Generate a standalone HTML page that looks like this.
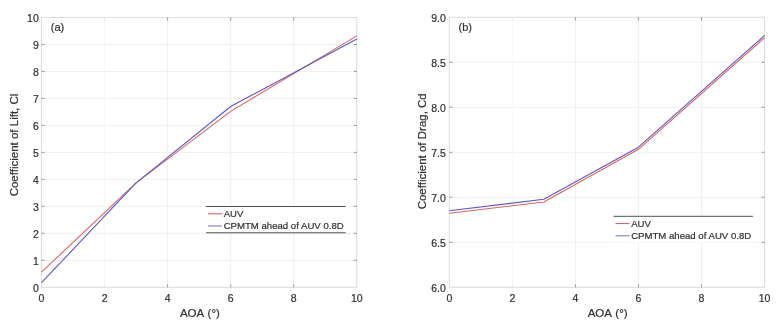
<!DOCTYPE html>
<html><head><meta charset="utf-8"><style>
html,body{margin:0;padding:0;background:#fff;}
body{width:779px;height:328px;overflow:hidden;}
svg{display:block;will-change:transform;}
text{font-family:"Liberation Sans", sans-serif;fill:#303030;stroke:#303030;stroke-width:0.2px;}
</style></head><body>
<svg width="779" height="328" viewBox="0 0 779 328">
<rect width="779" height="328" fill="#fff"/>
<line x1="104.56" y1="17.5" x2="104.56" y2="287.3" stroke="#f8f8f8" stroke-width="1"/>
<line x1="167.62" y1="17.5" x2="167.62" y2="287.3" stroke="#efefef" stroke-width="1"/>
<line x1="230.68" y1="17.5" x2="230.68" y2="287.3" stroke="#efefef" stroke-width="1"/>
<line x1="293.74" y1="17.5" x2="293.74" y2="287.3" stroke="#efefef" stroke-width="1"/>
<line x1="41.5" y1="260.32" x2="356.8" y2="260.32" stroke="#f0f0f0" stroke-width="1"/>
<line x1="41.5" y1="233.34" x2="356.8" y2="233.34" stroke="#f0f0f0" stroke-width="1"/>
<line x1="41.5" y1="206.36" x2="356.8" y2="206.36" stroke="#f0f0f0" stroke-width="1"/>
<line x1="41.5" y1="179.38" x2="356.8" y2="179.38" stroke="#f0f0f0" stroke-width="1"/>
<line x1="41.5" y1="152.40" x2="356.8" y2="152.40" stroke="#f0f0f0" stroke-width="1"/>
<line x1="41.5" y1="125.42" x2="356.8" y2="125.42" stroke="#f0f0f0" stroke-width="1"/>
<line x1="41.5" y1="98.44" x2="356.8" y2="98.44" stroke="#f0f0f0" stroke-width="1"/>
<line x1="41.5" y1="71.46" x2="356.8" y2="71.46" stroke="#f0f0f0" stroke-width="1"/>
<line x1="41.5" y1="44.48" x2="356.8" y2="44.48" stroke="#f0f0f0" stroke-width="1"/>
<rect x="41.5" y="17.5" width="315.30" height="269.80" fill="none" stroke="#dcdcdc" stroke-width="1"/>
<line x1="104.56" y1="287.3" x2="104.56" y2="284.3" stroke="#e4e4e4" stroke-width="1"/>
<line x1="104.56" y1="17.5" x2="104.56" y2="20.5" stroke="#e4e4e4" stroke-width="1"/>
<line x1="167.62" y1="287.3" x2="167.62" y2="284.3" stroke="#999" stroke-width="1"/>
<line x1="167.62" y1="17.5" x2="167.62" y2="20.5" stroke="#999" stroke-width="1"/>
<line x1="230.68" y1="287.3" x2="230.68" y2="284.3" stroke="#999" stroke-width="1"/>
<line x1="230.68" y1="17.5" x2="230.68" y2="20.5" stroke="#999" stroke-width="1"/>
<line x1="293.74" y1="287.3" x2="293.74" y2="284.3" stroke="#999" stroke-width="1"/>
<line x1="293.74" y1="17.5" x2="293.74" y2="20.5" stroke="#999" stroke-width="1"/>
<line x1="41.5" y1="260.32" x2="44.5" y2="260.32" stroke="#999" stroke-width="1"/>
<line x1="356.8" y1="260.32" x2="353.8" y2="260.32" stroke="#999" stroke-width="1"/>
<line x1="41.5" y1="233.34" x2="44.5" y2="233.34" stroke="#999" stroke-width="1"/>
<line x1="356.8" y1="233.34" x2="353.8" y2="233.34" stroke="#999" stroke-width="1"/>
<line x1="41.5" y1="206.36" x2="44.5" y2="206.36" stroke="#999" stroke-width="1"/>
<line x1="356.8" y1="206.36" x2="353.8" y2="206.36" stroke="#999" stroke-width="1"/>
<line x1="41.5" y1="179.38" x2="44.5" y2="179.38" stroke="#999" stroke-width="1"/>
<line x1="356.8" y1="179.38" x2="353.8" y2="179.38" stroke="#999" stroke-width="1"/>
<line x1="41.5" y1="152.40" x2="44.5" y2="152.40" stroke="#999" stroke-width="1"/>
<line x1="356.8" y1="152.40" x2="353.8" y2="152.40" stroke="#999" stroke-width="1"/>
<line x1="41.5" y1="125.42" x2="44.5" y2="125.42" stroke="#999" stroke-width="1"/>
<line x1="356.8" y1="125.42" x2="353.8" y2="125.42" stroke="#999" stroke-width="1"/>
<line x1="41.5" y1="98.44" x2="44.5" y2="98.44" stroke="#999" stroke-width="1"/>
<line x1="356.8" y1="98.44" x2="353.8" y2="98.44" stroke="#999" stroke-width="1"/>
<line x1="41.5" y1="71.46" x2="44.5" y2="71.46" stroke="#999" stroke-width="1"/>
<line x1="356.8" y1="71.46" x2="353.8" y2="71.46" stroke="#999" stroke-width="1"/>
<line x1="41.5" y1="44.48" x2="44.5" y2="44.48" stroke="#999" stroke-width="1"/>
<line x1="356.8" y1="44.48" x2="353.8" y2="44.48" stroke="#999" stroke-width="1"/>
<polyline points="41.50,272.19 136.09,182.89 230.68,111.39 356.80,35.85" fill="none" stroke="#d86464" stroke-width="1.1" stroke-linejoin="round"/>
<polyline points="41.50,282.71 136.09,182.89 230.68,106.53 356.80,39.08" fill="none" stroke="#6058c0" stroke-width="1.1" stroke-linejoin="round"/>
<text x="41.50" y="302.30" font-size="10.5" text-anchor="middle">0</text>
<text x="104.56" y="302.30" font-size="10.5" text-anchor="middle">2</text>
<text x="167.62" y="302.30" font-size="10.5" text-anchor="middle">4</text>
<text x="230.68" y="302.30" font-size="10.5" text-anchor="middle">6</text>
<text x="293.74" y="302.30" font-size="10.5" text-anchor="middle">8</text>
<text x="356.80" y="302.30" font-size="10.5" text-anchor="middle">10</text>
<text x="38.80" y="291.80" font-size="10.5" text-anchor="end">0</text>
<text x="38.80" y="264.82" font-size="10.5" text-anchor="end">1</text>
<text x="38.80" y="237.84" font-size="10.5" text-anchor="end">2</text>
<text x="38.80" y="210.86" font-size="10.5" text-anchor="end">3</text>
<text x="38.80" y="183.88" font-size="10.5" text-anchor="end">4</text>
<text x="38.80" y="156.90" font-size="10.5" text-anchor="end">5</text>
<text x="38.80" y="129.92" font-size="10.5" text-anchor="end">6</text>
<text x="38.80" y="102.94" font-size="10.5" text-anchor="end">7</text>
<text x="38.80" y="75.96" font-size="10.5" text-anchor="end">8</text>
<text x="38.80" y="48.98" font-size="10.5" text-anchor="end">9</text>
<text x="38.80" y="22.00" font-size="10.5" text-anchor="end">10</text>
<text x="199.90" y="316.70" font-size="11.5" text-anchor="middle" word-spacing="0.8">AOA (°)</text>
<text transform="translate(17.7,145) rotate(-90)" font-size="11.5" text-anchor="middle">Coefficient of Lift, Cl</text>
<text x="50.8" y="31.3" font-size="11">(a)</text>
<rect x="206" y="206.5" width="139.70" height="26.30" fill="#fff"/>
<line x1="206" y1="206.5" x2="345.7" y2="206.5" stroke="#505050" stroke-width="1"/>
<line x1="206" y1="232.8" x2="345.7" y2="232.8" stroke="#505050" stroke-width="1"/>
<line x1="208" y1="213.8" x2="222" y2="213.8" stroke="#d45555" stroke-width="1"/>
<line x1="208" y1="226.0" x2="222" y2="226.0" stroke="#8a88dc" stroke-width="1.2"/>
<text x="223.7" y="217.10000000000002" font-size="9.6">AUV</text>
<text x="223.7" y="229.3" font-size="9.6">CPMTM ahead of AUV 0.8D</text>
<line x1="512.34" y1="17.3" x2="512.34" y2="287.3" stroke="#f8f8f8" stroke-width="1"/>
<line x1="575.38" y1="17.3" x2="575.38" y2="287.3" stroke="#efefef" stroke-width="1"/>
<line x1="638.42" y1="17.3" x2="638.42" y2="287.3" stroke="#efefef" stroke-width="1"/>
<line x1="701.46" y1="17.3" x2="701.46" y2="287.3" stroke="#efefef" stroke-width="1"/>
<line x1="449.3" y1="242.30" x2="764.5" y2="242.30" stroke="#f0f0f0" stroke-width="1"/>
<line x1="449.3" y1="197.30" x2="764.5" y2="197.30" stroke="#f0f0f0" stroke-width="1"/>
<line x1="449.3" y1="152.30" x2="764.5" y2="152.30" stroke="#f0f0f0" stroke-width="1"/>
<line x1="449.3" y1="107.30" x2="764.5" y2="107.30" stroke="#f0f0f0" stroke-width="1"/>
<line x1="449.3" y1="62.30" x2="764.5" y2="62.30" stroke="#f0f0f0" stroke-width="1"/>
<rect x="449.3" y="17.3" width="315.20" height="270.00" fill="none" stroke="#dcdcdc" stroke-width="1"/>
<line x1="512.34" y1="287.3" x2="512.34" y2="284.3" stroke="#e4e4e4" stroke-width="1"/>
<line x1="512.34" y1="17.3" x2="512.34" y2="20.3" stroke="#e4e4e4" stroke-width="1"/>
<line x1="575.38" y1="287.3" x2="575.38" y2="284.3" stroke="#999" stroke-width="1"/>
<line x1="575.38" y1="17.3" x2="575.38" y2="20.3" stroke="#999" stroke-width="1"/>
<line x1="638.42" y1="287.3" x2="638.42" y2="284.3" stroke="#999" stroke-width="1"/>
<line x1="638.42" y1="17.3" x2="638.42" y2="20.3" stroke="#999" stroke-width="1"/>
<line x1="701.46" y1="287.3" x2="701.46" y2="284.3" stroke="#999" stroke-width="1"/>
<line x1="701.46" y1="17.3" x2="701.46" y2="20.3" stroke="#999" stroke-width="1"/>
<line x1="449.3" y1="242.30" x2="452.3" y2="242.30" stroke="#999" stroke-width="1"/>
<line x1="764.5" y1="242.30" x2="761.5" y2="242.30" stroke="#999" stroke-width="1"/>
<line x1="449.3" y1="197.30" x2="452.3" y2="197.30" stroke="#999" stroke-width="1"/>
<line x1="764.5" y1="197.30" x2="761.5" y2="197.30" stroke="#999" stroke-width="1"/>
<line x1="449.3" y1="152.30" x2="452.3" y2="152.30" stroke="#999" stroke-width="1"/>
<line x1="764.5" y1="152.30" x2="761.5" y2="152.30" stroke="#999" stroke-width="1"/>
<line x1="449.3" y1="107.30" x2="452.3" y2="107.30" stroke="#999" stroke-width="1"/>
<line x1="764.5" y1="107.30" x2="761.5" y2="107.30" stroke="#999" stroke-width="1"/>
<line x1="449.3" y1="62.30" x2="452.3" y2="62.30" stroke="#999" stroke-width="1"/>
<line x1="764.5" y1="62.30" x2="761.5" y2="62.30" stroke="#999" stroke-width="1"/>
<polyline points="449.30,213.23 543.86,202.07 638.42,149.33 764.50,37.82" fill="none" stroke="#d86464" stroke-width="1.1" stroke-linejoin="round"/>
<polyline points="449.30,210.80 543.86,199.28 638.42,147.17 764.50,35.48" fill="none" stroke="#6058c0" stroke-width="1.1" stroke-linejoin="round"/>
<text x="449.30" y="302.30" font-size="10.5" text-anchor="middle">0</text>
<text x="512.34" y="302.30" font-size="10.5" text-anchor="middle">2</text>
<text x="575.38" y="302.30" font-size="10.5" text-anchor="middle">4</text>
<text x="638.42" y="302.30" font-size="10.5" text-anchor="middle">6</text>
<text x="701.46" y="302.30" font-size="10.5" text-anchor="middle">8</text>
<text x="764.50" y="302.30" font-size="10.5" text-anchor="middle">10</text>
<text x="445.90" y="291.80" font-size="10.5" text-anchor="end">6.0</text>
<text x="445.90" y="246.80" font-size="10.5" text-anchor="end">6.5</text>
<text x="445.90" y="201.80" font-size="10.5" text-anchor="end">7.0</text>
<text x="445.90" y="156.80" font-size="10.5" text-anchor="end">7.5</text>
<text x="445.90" y="111.80" font-size="10.5" text-anchor="end">8.0</text>
<text x="445.90" y="66.80" font-size="10.5" text-anchor="end">8.5</text>
<text x="445.90" y="21.80" font-size="10.5" text-anchor="end">9.0</text>
<text x="607.65" y="316.70" font-size="11.5" text-anchor="middle" word-spacing="0.8">AOA (°)</text>
<text transform="translate(425.7,151.3) rotate(-90)" font-size="11.5" text-anchor="middle">Coefficient of Drag, Cd</text>
<text x="458.5" y="31.3" font-size="11">(b)</text>
<rect x="613.5" y="216.3" width="139.40" height="26.00" fill="#fff"/>
<line x1="613.5" y1="216.3" x2="752.9" y2="216.3" stroke="#505050" stroke-width="1"/>
<line x1="615.5" y1="223.60000000000002" x2="629.5" y2="223.60000000000002" stroke="#d45555" stroke-width="1"/>
<line x1="615.5" y1="235.8" x2="629.5" y2="235.8" stroke="#8a88dc" stroke-width="1.2"/>
<text x="631.2" y="226.90000000000003" font-size="9.6">AUV</text>
<text x="631.2" y="239.10000000000002" font-size="9.6">CPMTM ahead of AUV 0.8D</text>
</svg>
</body></html>
